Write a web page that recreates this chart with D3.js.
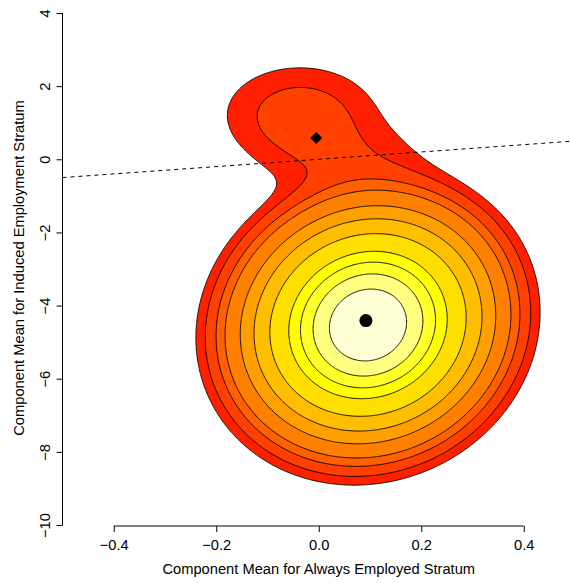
<!DOCTYPE html>
<html>
<head>
<meta charset="utf-8">
<script src="https://cdn.jsdelivr.net/npm/d3@7"></script>
<style>
  body { margin: 0; background: #fff; }
  svg text { font-family: "Liberation Sans", Arial, Helvetica, sans-serif; font-size: 14.7px; fill: #000; }
</style>
</head>
<body>
<svg width="570" height="583"></svg>
<script>
// density components: main blob, upper lobe, and the ridge joining them (data units)
var compMeanX = [0.0961, -0.0366, 0.061];
var compMeanY = [-4.531, 1.238, -0.074];
var compSdX   = [0.1405, 0.0944, 0.1015];
var compSdY   = [1.832, 0.848, 0.711];
var compRho   = [0.08, 0, 0];
var compPeak  = [1.0, 0.0242, 0.0135];
var compShape = [1.5, 1.0, 1.0];

// contour levels, outer to inner, and the fill of each band
var levels = [0.0080, 0.0169, 0.0361, 0.063, 0.139, 0.246, 0.4085, 0.6246, 0.747, 0.855, 0.947];
var levelColors = ["#FF2000", "#FF4000", "#FF6000", "#FF8000", "#FF9F00", "#FFBF00",
                   "#FFDF00", "#FFFF00", "#FFFF2A", "#FFFF80", "#FFFFD5"];

// the two marked points
var pointX = [-0.005, 0.092];
var pointY = [0.58, -4.41];
var pointShape = ["diamond", "circle"];

var xTicks = [-0.4, -0.2, 0, 0.2, 0.4];
var yTicks = [-10, -8, -6, -4, -2, 0, 2, 4];

// dashed reference line y = a + b x
var refIntercept = 0, refSlope = 1;

var svg = d3.select("svg"),
    width = +svg.attr("width"),
    height = +svg.attr("height");

var x = d3.scaleLinear().domain([-0.5, 0.5]).range([62.5, 575]);
var y = d3.scaleLinear().domain([-10, 4]).range([525, 13]);
var axisY = 526;

svg.append("defs").append("clipPath").attr("id", "plotclip")
  .append("rect").attr("x", 62.5).attr("y", 0).attr("width", 520).attr("height", axisY);

// evaluate the mixture on a grid
function density(px, py) {
  var f = 0;
  for (var k = 0; k < compPeak.length; k++) {
    var zx = (px - compMeanX[k]) / compSdX[k],
        zy = (py - compMeanY[k]) / compSdY[k],
        r = compRho[k];
    var q = (zx * zx - 2 * r * zx * zy + zy * zy) / (1 - r * r);
    f += compPeak[k] * Math.exp(-Math.pow(q / 2, compShape[k]));
  }
  return f;
}

var gx0 = -0.3, gx1 = 0.5, gy0 = 4, gy1 = -10;
var nx = 400, ny = 420;
var gdx = (gx1 - gx0) / (nx - 1), gdy = (gy1 - gy0) / (ny - 1);
var values = new Array(nx * ny);
for (var j = 0; j < ny; j++) {
  for (var i = 0; i < nx; i++) {
    values[j * nx + i] = density(gx0 + i * gdx, gy0 + j * gdy);
  }
}

var contours = d3.contours().size([nx, ny]).thresholds(levels)(values);

var gridToPixel = d3.geoTransform({
  point: function(px, py) {
    this.stream.point(x(gx0 + (px - 0.5) * gdx), y(gy0 + (py - 0.5) * gdy));
  }
});
var path = d3.geoPath(gridToPixel);

var plot = svg.append("g").attr("clip-path", "url(#plotclip)");

plot.selectAll("path.band")
  .data(contours)
  .enter().append("path")
    .attr("class", "band")
    .attr("d", path)
    .attr("fill", function(d, i) { return levelColors[i]; })
    .attr("stroke", "#000")
    .attr("stroke-width", 0.9);

// dashed line
var refX = x.domain();
plot.append("line")
  .attr("x1", x(refX[0])).attr("y1", y(refIntercept + refSlope * refX[0]))
  .attr("x2", x(refX[1])).attr("y2", y(refIntercept + refSlope * refX[1]))
  .attr("stroke", "#000")
  .attr("stroke-width", 1)
  .attr("stroke-dasharray", "4,4");

// points
pointX.forEach(function(px, i) {
  if (pointShape[i] == "circle") {
    plot.append("circle")
      .attr("cx", x(px)).attr("cy", y(pointY[i]))
      .attr("r", 6.5)
      .attr("fill", "#000");
  } else {
    plot.append("path")
      .attr("d", d3.symbol().type(d3.symbolSquare).size(72)())
      .attr("transform", "translate(" + x(px) + "," + y(pointY[i]) + ") rotate(45)")
      .attr("fill", "#000");
  }
});

// x axis (R style: line only between first and last tick)
var gx = svg.append("g")
  .attr("transform", "translate(0," + axisY + ")")
  .call(d3.axisBottom(x).tickValues(xTicks).tickFormat(d3.format(".1f")).tickSize(6).tickSizeOuter(0));
gx.select(".domain").remove();
gx.append("line")
  .attr("x1", x(xTicks[0])).attr("x2", x(xTicks[xTicks.length - 1]))
  .attr("stroke", "#000");
gx.selectAll(".tick line").attr("stroke", "#000");
gx.selectAll(".tick text")
  .attr("y", 24.3).attr("dy", null);

// y axis
var gy = svg.append("g")
  .attr("transform", "translate(62.5,0)")
  .call(d3.axisLeft(y).tickValues(yTicks).tickFormat(d3.format("d")).tickSize(6).tickSizeOuter(0));
gy.select(".domain").remove();
gy.append("line")
  .attr("y1", y(yTicks[0])).attr("y2", y(yTicks[yTicks.length - 1]))
  .attr("stroke", "#000");
gy.selectAll(".tick line").attr("stroke", "#000");
gy.selectAll(".tick text")
  .attr("x", null).attr("dy", null)
  .attr("text-anchor", "middle")
  .attr("transform", "translate(-12.2,0) rotate(-90)");
gy.attr("font-size", null).attr("font-family", null);
gx.attr("font-size", null).attr("font-family", null);

// axis titles
svg.append("text")
  .attr("x", x(0)).attr("y", 574)
  .attr("text-anchor", "middle")
  .text("Component Mean for Always Employed Stratum");

svg.append("text")
  .attr("transform", "translate(24.3,268) rotate(-90)")
  .attr("text-anchor", "middle")
  .text("Component Mean for Induced Employment Stratum");
</script>
</body>
</html>
